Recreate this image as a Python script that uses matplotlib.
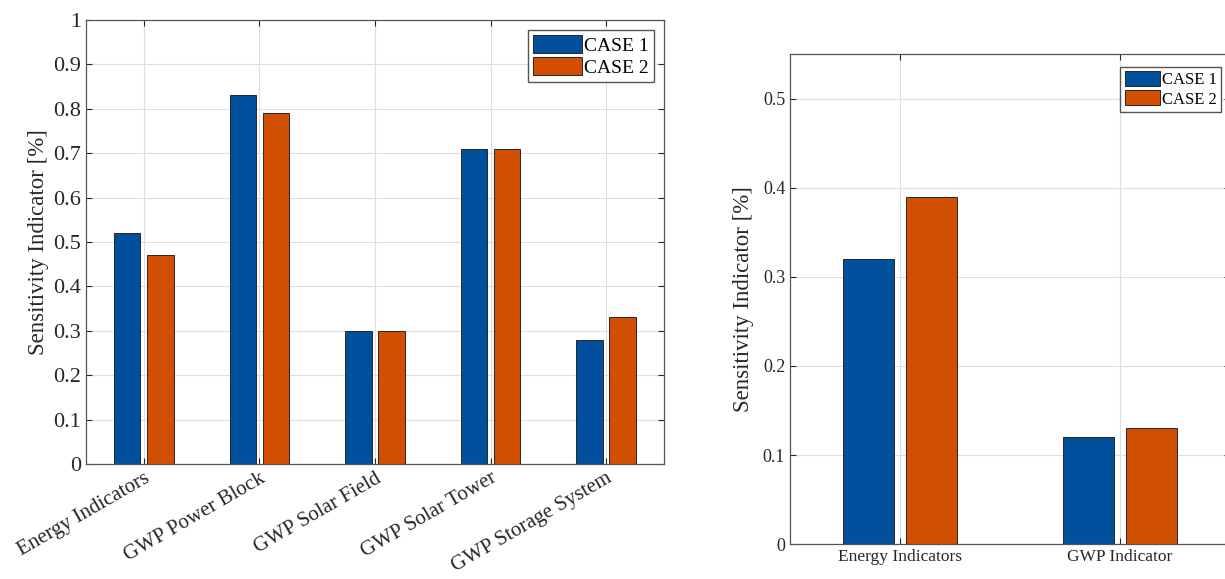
import matplotlib
matplotlib.use("Agg")
import matplotlib.pyplot as plt
import numpy as np

plt.rcParams['font.family'] = ['Liberation Serif', 'DejaVu Serif']

# data
cats_left = ['Energy Indicators', 'GWP Power Block', 'GWP Solar Field',
             'GWP Solar Tower', 'GWP Storage System']
case1_left = [0.52, 0.83, 0.30, 0.71, 0.28]
case2_left = [0.47, 0.79, 0.30, 0.71, 0.33]

cats_right = ['Energy Indicators', 'GWP Indicator']
case1_right = [0.32, 0.12]
case2_right = [0.39, 0.13]

labels = ['CASE 1', 'CASE 2']
blue = '#00509E'
orange = '#D24E01'
edge = '#262626'
gridc = '#dedede'

fig = plt.figure(figsize=(12.25, 5.79), dpi=100)
ax1 = fig.add_axes([0.0702, 0.1986, 0.4718, 0.7669])
ax2 = fig.add_axes([0.6449, 0.0604, 0.3591, 0.8456])

off = 0.143
w = 0.229


def style(ax, fs):
    ax.set_axisbelow(True)
    ax.grid(True, color=gridc, linewidth=0.8)
    ax.tick_params(direction='in', top=True, right=True, length=4,
                   width=0.8, colors=edge, labelsize=fs)
    ax.tick_params(axis='both', labelcolor='#262626')
    for s in ax.spines.values():
        s.set_color('#555555')
        s.set_linewidth(0.9)


# left panel
x = np.arange(1, len(cats_left) + 1)
ax1.bar(x - off, case1_left, w, color=blue, edgecolor=edge, linewidth=0.7, label=labels[0])
ax1.bar(x + off, case2_left, w, color=orange, edgecolor=edge, linewidth=0.7, label=labels[1])
ax1.set_xlim(0.5, len(cats_left) + 0.5)
ax1.set_ylim(0, 1)
ax1.set_yticks(np.arange(0, 1.01, 0.1))
ax1.set_yticklabels(['0'] + ['%.1f' % v for v in np.arange(0.1, 0.95, 0.1)] + ['1'])
ax1.set_xticks(x)
ax1.set_xticklabels(cats_left, rotation=30, ha='right', rotation_mode='anchor')
style(ax1, 16)
ax1.tick_params(axis='x', labelsize=15)
ax1.set_ylabel('Sensitivity Indicator [%]', fontsize=16.5, color='#262626', labelpad=3)
ax1.legend(loc='upper right', fontsize=14, frameon=True, fancybox=False,
           edgecolor='#555555', handlelength=2.5, handleheight=1.0,
           handletextpad=0.1, labelspacing=0.15, borderpad=0.28,
           borderaxespad=0.5, framealpha=1)

# right panel
x2 = np.arange(1, len(cats_right) + 1)
ax2.bar(x2 - off, case1_right, w, color=blue, edgecolor=edge, linewidth=0.7, label=labels[0])
ax2.bar(x2 + off, case2_right, w, color=orange, edgecolor=edge, linewidth=0.7, label=labels[1])
ax2.set_xlim(0.5, len(cats_right) + 0.5)
ax2.set_ylim(0, 0.55)
ax2.set_yticks(np.arange(0, 0.51, 0.1))
ax2.set_yticklabels(['0'] + ['%.1f' % v for v in np.arange(0.1, 0.55, 0.1)])
ax2.set_xticks(x2)
ax2.set_xticklabels(cats_right)
style(ax2, 13)
ax2.tick_params(axis='x', labelsize=12.5)
ax2.set_ylabel('Sensitivity Indicator [%]', fontsize=16.5, color='#262626', labelpad=6)
ax2.legend(loc='upper right', fontsize=12, frameon=True, fancybox=False,
           edgecolor='#555555', handlelength=2.1, handleheight=1.0,
           handletextpad=0.1, labelspacing=0.12, borderpad=0.28,
           borderaxespad=0, bbox_to_anchor=(0.98, 0.975), framealpha=1)

fig.savefig('out.png', dpi=100)
